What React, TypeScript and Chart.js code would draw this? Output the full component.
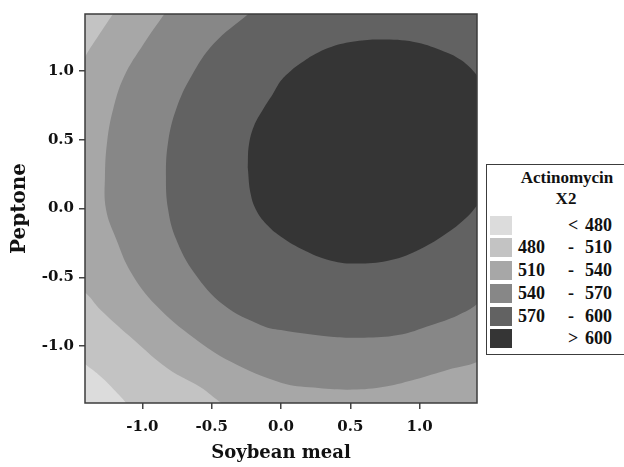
import React, { useEffect, useRef } from "react";
import { Chart, registerables } from "chart.js";

Chart.register(...registerables);

// Axis ticks (coded factor levels)
const xTicks = [-1.0, -0.5, 0.0, 0.5, 1.0];
const yTicks = [-1.0, -0.5, 0.0, 0.5, 1.0];
const axisMin = -1.414;
const axisMax = 1.414;

// Legend
const legendTitle = ["Actinomycin", "X2"];
const legendLow = ["", "480", "510", "540", "570", ""];
const legendSep = ["<", "-", "-", "-", "-", ">"];
const legendHigh = ["480", "510", "540", "570", "600", "600"];
const levelColors = ["#dcdcdc", "#c3c3c3", "#a7a7a7", "#878787", "#626262", "#353535"];

// Contour boundaries, as [Soybean meal, Peptone] pairs.
// Points beyond ±1.414 are where the contour continues outside the plotted region.
const contourBelow480 = [
  [-1.65, -0.95], [-1.407, -1.136], [-1.299, -1.223], [-1.205, -1.317], [-1.118, -1.414],
  [-1.0, -1.6], [-1.75, -1.75],
];
const contour510 = [
  [-1.215, 1.411], [-1.323, 1.247], [-1.407, 1.115], [-1.6, 0.75], [-1.72, 0.3], [-1.72, -0.15],
  [-1.58, -0.48], [-1.407, -0.617], [-1.299, -0.74], [-1.061, -0.956], [-0.815, -1.165],
  [-0.58, -1.3], [-0.43, -1.414], [-0.2, -1.55], [0.5, -1.65], [1.3, -1.55], [1.9, -1.25],
  [2.4, -0.6], [2.6, 0.3], [2.5, 1.2], [2.1, 2.0], [1.2, 2.5], [0.0, 2.4], [-0.8, 1.9], [-1.1, 1.55],
];
const contour540 = [
  [-0.844, 1.411], [-0.988, 1.201], [-1.133, 0.958], [-1.212, 0.718], [-1.255, 0.48],
  [-1.27, 0.234], [-1.263, -0.004], [-1.19, -0.22], [-1.082, -0.465], [-0.902, -0.704],
  [-0.628, -0.942], [-0.361, -1.115], [0.0, -1.266], [0.238, -1.302], [0.483, -1.317],
  [0.722, -1.3], [0.96, -1.245], [1.205, -1.172], [1.421, -1.113], [1.7, -0.95], [2.05, -0.5],
  [2.25, 0.2], [2.25, 1.0], [1.95, 1.7], [1.35, 2.1], [0.5, 2.2], [-0.25, 2.0], [-0.65, 1.7],
];
const contour570 = [
  [-0.24, 1.411], [-0.483, 1.201], [-0.649, 0.958], [-0.758, 0.718], [-0.815, 0.48],
  [-0.83, 0.234], [-0.815, -0.004], [-0.758, -0.22], [-0.628, -0.465], [-0.411, -0.704],
  [-0.144, -0.848], [0.0, -0.884], [0.361, -0.932], [0.599, -0.939], [0.844, -0.92],
  [1.082, -0.848], [1.277, -0.776], [1.421, -0.689], [1.65, -0.45], [1.85, 0.0], [1.95, 0.5],
  [1.9, 1.05], [1.65, 1.55], [1.15, 1.85], [0.5, 1.95], [0.0, 1.75],
];
const contour600 = [
  [-0.24, 0.3], [-0.232, 0.46], [-0.195, 0.6], [-0.13, 0.72], [-0.06, 0.83], [0.0, 0.93],
  [0.07, 1.0], [0.144, 1.057], [0.25, 1.125], [0.361, 1.175], [0.54, 1.215], [0.722, 1.228],
  [0.96, 1.211], [1.154, 1.151], [1.299, 1.079], [1.421, 0.958], [1.55, 0.75], [1.6, 0.45],
  [1.5, 0.12], [1.421, 0.03], [1.35, -0.054], [1.203, -0.175], [1.01, -0.292], [0.794, -0.375],
  [0.577, -0.4], [0.361, -0.379], [0.144, -0.292], [0.0, -0.206], [-0.094, -0.126],
  [-0.175, -0.02], [-0.22, 0.11],
];

const AXIS_FONT = "'DejaVu Serif', serif";
const LEGEND_FONT = "'Liberation Serif', 'Times New Roman', serif";

function shape(points: number[][], color: string) {
  const data = points.concat([points[0]]).map(([x, y]) => ({ x, y }));
  return {
    data,
    showLine: true,
    fill: "shape",
    backgroundColor: color,
    borderColor: "rgba(0,0,0,0)",
    borderWidth: 0,
    pointRadius: 0,
    pointHoverRadius: 0,
    tension: 0.4,
    capBezierPoints: false,
  };
}

const plotFrame = {
  id: "plotFrame",
  beforeDatasetsDraw(chart: any) {
    const { ctx, chartArea } = chart;
    ctx.save();
    ctx.fillStyle = levelColors[1];
    ctx.fillRect(chartArea.left, chartArea.top, chartArea.right - chartArea.left, chartArea.bottom - chartArea.top);
    ctx.restore();
  },
  afterDatasetsDraw(chart: any) {
    const { ctx, chartArea } = chart;
    ctx.save();
    ctx.strokeStyle = "#3c3c3c";
    ctx.lineWidth = 1.5;
    ctx.strokeRect(chartArea.left, chartArea.top, chartArea.right - chartArea.left, chartArea.bottom - chartArea.top);
    ctx.restore();
  },
};

export default function App() {
  const canvasRef = useRef<HTMLCanvasElement | null>(null);

  useEffect(() => {
    if (!canvasRef.current) return;
    const tickFont = { family: AXIS_FONT, weight: "bold" as const, size: 15 };
    const chart = new Chart(canvasRef.current, {
      type: "scatter",
      data: {
        datasets: [
          shape(contour600, levelColors[5]),
          shape(contour570, levelColors[4]),
          shape(contour540, levelColors[3]),
          shape(contour510, levelColors[2]),
          shape(contourBelow480, levelColors[0]),
        ] as any,
      },
      options: {
        responsive: false,
        animation: false,
        events: [],
        layout: { padding: { left: 0, top: 12, right: 147, bottom: 0 } },
        plugins: { legend: { display: false }, tooltip: { enabled: false } },
        scales: {
          x: {
            type: "linear",
            min: axisMin,
            max: axisMax,
            afterBuildTicks: (s: any) => {
              s.ticks = xTicks.map((v) => ({ value: v }));
            },
            afterFit: (s: any) => {
              s.height = 64;
            },
            ticks: {
              callback: (v: any) => Number(v).toFixed(1),
              font: tickFont,
              color: "#111",
              padding: 9,
              maxRotation: 0,
            },
            grid: { drawOnChartArea: false, tickLength: 6, color: "#444", lineWidth: 1.5 },
            border: { display: false },
            title: {
              display: true,
              text: "Soybean meal",
              font: { family: AXIS_FONT, weight: "bold", size: 18 },
              color: "#111",
              padding: { top: 0, bottom: 3 },
            },
          },
          y: {
            type: "linear",
            min: axisMin,
            max: axisMax,
            afterBuildTicks: (s: any) => {
              s.ticks = yTicks.map((v) => ({ value: v }));
            },
            afterFit: (s: any) => {
              s.width = 85;
            },
            ticks: {
              callback: (v: any) => Number(v).toFixed(1),
              font: tickFont,
              color: "#111",
              padding: 5,
            },
            grid: { drawOnChartArea: false, tickLength: 6, color: "#444", lineWidth: 1.5 },
            border: { display: false },
            title: {
              display: true,
              text: "Peptone",
              font: { family: AXIS_FONT, weight: "bold", size: 20 },
              color: "#111",
              padding: { top: 8, bottom: 0 },
            },
          },
        },
      } as any,
      plugins: [plotFrame],
    });
    return () => chart.destroy();
  }, []);

  const rowCenters = [225, 247, 270, 293, 316, 338];

  return (
    <div
      style={{
        position: "fixed",
        left: 0,
        top: 0,
        width: 624,
        height: 467,
        overflow: "hidden",
        background: "#fff",
      }}
    >
      <canvas
        ref={canvasRef}
        width={624}
        height={467}
        style={{ position: "absolute", left: 0, top: 0, width: 624, height: 467 }}
      />
      <div
        style={{
          position: "absolute",
          left: 486,
          top: 164,
          width: 160,
          height: 191,
          border: "1.5px solid #3c3c3c",
          boxSizing: "border-box",
          background: "#fff",
        }}
      />
      <div
        style={{
          position: "absolute",
          left: 0,
          top: 0,
          width: 624,
          height: 467,
          fontFamily: LEGEND_FONT,
          fontWeight: "bold",
          color: "#111",
        }}
      >
        <div style={{ position: "absolute", left: 507, width: 120, top: 168, lineHeight: "20px", fontSize: 17, textAlign: "center" }}>
          {legendTitle[0]}
        </div>
        <div style={{ position: "absolute", left: 506, width: 120, top: 189, lineHeight: "20px", fontSize: 17, textAlign: "center" }}>
          {legendTitle[1]}
        </div>
        {rowCenters.map((cy, i) => (
          <React.Fragment key={i}>
            <div
              style={{
                position: "absolute",
                left: 490,
                top: cy - 9,
                width: 22,
                height: 19,
                background: levelColors[i],
              }}
            />
            <div style={{ position: "absolute", left: 518, top: cy - 10, lineHeight: "20px", fontSize: 18 }}>
              {legendLow[i]}
            </div>
            <div style={{ position: "absolute", left: 568, top: cy - 10, lineHeight: "20px", fontSize: 18 }}>
              {legendSep[i]}
            </div>
            <div style={{ position: "absolute", left: 585, top: cy - 10, lineHeight: "20px", fontSize: 18 }}>
              {legendHigh[i]}
            </div>
          </React.Fragment>
        ))}
      </div>
    </div>
  );
}
